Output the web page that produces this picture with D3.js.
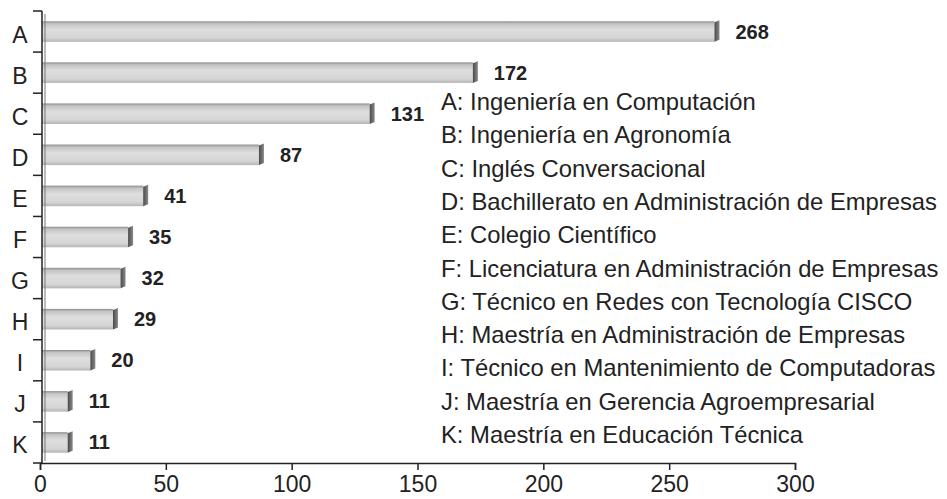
<!DOCTYPE html>
<html>
<head>
<meta charset="utf-8">
<script src="https://cdn.jsdelivr.net/npm/d3@7"></script>
<style>
  body { margin: 0; background: #fff; }
  svg text { font-family: "Liberation Sans", Arial, sans-serif; fill: #222; }
</style>
</head>
<body>
<div id="chart"></div>
<script>
// data
var categories = ["A", "B", "C", "D", "E", "F", "G", "H", "I", "J", "K"];
var values = [268, 172, 131, 87, 41, 35, 32, 29, 20, 11, 11];
var legendLabels = [
    "A: Ingeniería en Computación",
    "B: Ingeniería en Agronomía",
    "C: Inglés Conversacional",
    "D: Bachillerato en Administración de Empresas",
    "E: Colegio Científico",
    "F: Licenciatura en Administración de Empresas",
    "G: Técnico en Redes con Tecnología CISCO",
    "H: Maestría en Administración de Empresas",
    "I: Técnico en Mantenimiento de Computadoras",
    "J: Maestría en Gerencia Agroempresarial",
    "K: Maestría en Educación Técnica"
];
var xTicks = [0, 50, 100, 150, 200, 250, 300];

var width = 947, height = 499;

var svg = d3.select("#chart").append("svg")
    .attr("width", width)
    .attr("height", height);

var x = d3.scaleLinear().domain([0, 300]).range([40, 795]);
var y = d3.scaleBand().domain(categories).range([11, 463])
    .paddingInner(0.5).paddingOuter(0.25);

var defs = svg.append("defs");
var grad = defs.append("linearGradient")
    .attr("id", "barFill")
    .attr("x1", 0).attr("y1", 0).attr("x2", 0).attr("y2", 1);
grad.append("stop").attr("offset", "0%").attr("stop-color", "#8c8c8c");
grad.append("stop").attr("offset", "12%").attr("stop-color", "#c4c4c4");
grad.append("stop").attr("offset", "40%").attr("stop-color", "#dedede");
grad.append("stop").attr("offset", "80%").attr("stop-color", "#d6d6d6");
grad.append("stop").attr("offset", "100%").attr("stop-color", "#b5b5b5");

var capGrad = defs.append("linearGradient")
    .attr("id", "capFill")
    .attr("x1", 0).attr("y1", 0).attr("x2", 1).attr("y2", 0);
capGrad.append("stop").attr("offset", "0%").attr("stop-color", "#4a4a4a");
capGrad.append("stop").attr("offset", "100%").attr("stop-color", "#8a8a8a");

var cap = 5;

// bars
svg.selectAll(".bar")
    .data(values)
    .enter()
    .append("rect")
    .attr("class", "bar")
    .attr("x", x(0) + 2)
    .attr("y", function(d, i) { return y(categories[i]); })
    .attr("width", function(d) { return x(d) - x(0) - 2; })
    .attr("height", y.bandwidth())
    .attr("fill", "url(#barFill)");

// 3d end caps
svg.selectAll(".cap")
    .data(values)
    .enter()
    .append("polygon")
    .attr("class", "cap")
    .attr("points", function(d, i) {
        var x1 = x(d), y0 = y(categories[i]), y1 = y0 + y.bandwidth();
        return [[x1, y0 + 1], [x1 + cap, y0 - 1], [x1 + cap, y1 - 2], [x1, y1]].join(" ");
    })
    .attr("fill", "url(#capFill)");

// value labels
svg.selectAll(".val")
    .data(values)
    .enter()
    .append("text")
    .attr("class", "val")
    .attr("x", function(d) { return x(d) + cap + 16; })
    .attr("y", function(d, i) { return y(categories[i]) + y.bandwidth() / 2 + 7; })
    .attr("font-size", 20)
    .attr("font-weight", "bold")
    .attr("fill", "#333")
    .text(function(d) { return d; });

// y axis
var yAxis = svg.append("g");
yAxis.append("line")
    .attr("x1", 42).attr("x2", 42)
    .attr("y1", y.range()[0]).attr("y2", y.range()[1])
    .attr("stroke", "#222").attr("stroke-width", 1.5);
yAxis.append("line")
    .attr("x1", 45).attr("x2", 45)
    .attr("y1", y.range()[0] + 3).attr("y2", y.range()[1] - 2)
    .attr("stroke", "#777").attr("stroke-width", 1);
yAxis.selectAll(".ytick")
    .data(d3.range(categories.length + 1))
    .enter()
    .append("line")
    .attr("class", "ytick")
    .attr("x1", 33).attr("x2", 42)
    .attr("y1", function(i) { return y.range()[0] + i * y.step(); })
    .attr("y2", function(i) { return y.range()[0] + i * y.step(); })
    .attr("stroke", "#222").attr("stroke-width", 1.5);
yAxis.selectAll(".ylab")
    .data(categories)
    .enter()
    .append("text")
    .attr("class", "ylab")
    .attr("x", 20)
    .attr("y", function(d) { return y(d) + y.bandwidth() / 2 + 11; })
    .attr("text-anchor", "middle")
    .attr("font-size", 23)
    .text(function(d) { return d; });

// x axis
var xAxis = svg.append("g")
    .attr("transform", "translate(0,463)")
    .call(d3.axisBottom(x).tickValues(xTicks).tickSizeOuter(0).tickSize(7).tickPadding(6));
xAxis.select(".domain").attr("stroke", "#222").attr("stroke-width", 1.5);
xAxis.selectAll(".tick line").attr("stroke", "#222").attr("stroke-width", 1.5);
xAxis.selectAll(".tick text")
    .attr("font-size", 23)
    .attr("font-family", "Liberation Sans, Arial, sans-serif")
    .attr("fill", "#222");

// legend
svg.selectAll(".leg")
    .data(legendLabels)
    .enter()
    .append("text")
    .attr("class", "leg")
    .attr("x", 441)
    .attr("y", function(d, i) { return 110 + i * 33.3; })
    .attr("font-size", 23.8)
    .text(function(d) { return d; });
</script>
</body>
</html>
